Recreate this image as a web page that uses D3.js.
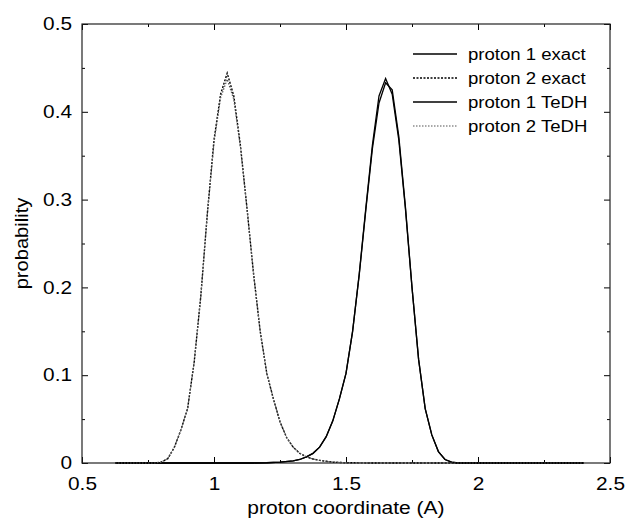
<!DOCTYPE html>
<html>
<head>
<meta charset="utf-8">
<script src="https://cdn.jsdelivr.net/npm/d3@7"></script>
<style>
  body { margin: 0; background: #fff; }
  text { font-family: "Liberation Sans", Arial, sans-serif; fill: #000; }
</style>
</head>
<body>
<div id="chart"></div>
<script>
/* proton probability densities, exact vs TeDH */

// [coordinate, probability]
const proton1Exact = [[0.625,0],[1.15,0],[1.2,0.0003],[1.25,0.001],[1.3,0.0025],[1.325,0.004],[1.35,0.007],
  [1.375,0.011],[1.4,0.018],[1.425,0.03],[1.45,0.048],[1.475,0.073],[1.5,0.102],[1.525,0.15],[1.55,0.215],
  [1.575,0.29],[1.6,0.362],[1.625,0.418],[1.65,0.438],[1.675,0.42],[1.7,0.368],[1.725,0.29],[1.75,0.2],
  [1.775,0.118],[1.8,0.062],[1.825,0.032],[1.85,0.013],[1.875,0.004],[1.9,0.001],[1.925,0],[2.4,0]];

const proton2Exact = [[0.625,0],[0.775,0],[0.8,0.001],[0.825,0.005],[0.85,0.018],[0.875,0.038],[0.9,0.062],
  [0.925,0.115],[0.95,0.19],[0.975,0.285],[1.0,0.368],[1.025,0.42],[1.05,0.444],[1.075,0.418],[1.1,0.362],
  [1.125,0.29],[1.15,0.215],[1.175,0.15],[1.2,0.102],[1.225,0.073],[1.25,0.047],[1.275,0.029],[1.3,0.018],
  [1.325,0.011],[1.35,0.007],[1.375,0.0045],[1.4,0.003],[1.425,0.002],[1.45,0.001],[1.5,0.0003],[1.6,0],[2.4,0]];

const proton1TeDH = [[0.625,0],[1.15,0],[1.2,0.0003],[1.25,0.001],[1.3,0.0025],[1.325,0.004],[1.35,0.007],
  [1.375,0.011],[1.4,0.018],[1.425,0.03],[1.45,0.048],[1.475,0.073],[1.5,0.102],[1.525,0.15],[1.55,0.214],
  [1.575,0.288],[1.6,0.358],[1.625,0.41],[1.65,0.433],[1.675,0.425],[1.7,0.372],[1.725,0.292],[1.75,0.2],
  [1.775,0.118],[1.8,0.062],[1.825,0.032],[1.85,0.013],[1.875,0.004],[1.9,0.001],[1.925,0],[2.4,0]];

const proton2TeDH = [[0.625,0],[0.775,0],[0.8,0.001],[0.825,0.005],[0.85,0.018],[0.875,0.038],[0.9,0.062],
  [0.925,0.115],[0.95,0.19],[0.975,0.284],[1.0,0.365],[1.025,0.416],[1.05,0.437],[1.075,0.414],[1.1,0.36],
  [1.125,0.29],[1.15,0.215],[1.175,0.15],[1.2,0.102],[1.225,0.073],[1.25,0.047],[1.275,0.029],[1.3,0.018],
  [1.325,0.011],[1.35,0.007],[1.375,0.0045],[1.4,0.003],[1.425,0.002],[1.45,0.001],[1.5,0.0003],[1.6,0],[2.4,0]];

const seriesNames = ["proton 1 exact", "proton 2 exact", "proton 1 TeDH", "proton 2 TeDH"];
const xTicks = [0.5, 1, 1.5, 2, 2.5];
const yTicks = [0, 0.1, 0.2, 0.3, 0.4, 0.5];
const xMinor = [0.75, 1.25, 1.75, 2.25];
const yMinor = [0.05, 0.15, 0.25, 0.35, 0.45];

const width = 627,
      height = 522,
      margin = ({ top: 24, right: 17, bottom: 59, left: 82 });

let svg = d3.select("#chart")
    .append("svg")
    .attr("width", width)
    .attr("height", height);

let x = d3.scaleLinear()
    .domain([0.5, 2.5])
    .range([margin.left, width - margin.right]);

let y = d3.scaleLinear()
    .domain([0, 0.5])
    .range([height - margin.bottom, margin.top]);

const fmt = d3.format("~g");

// the original lettering is a bit wider than Liberation Sans, so stretch it
function stretch(sel, k) {
    sel.each(function() {
        const len = this.getComputedTextLength();
        d3.select(this)
            .attr("textLength", len * k)
            .attr("lengthAdjust", "spacingAndGlyphs");
    });
}

// ticks point inward on all four sides
svg.append("g")
    .attr("class", "labels")
    .attr("transform", `translate(0,${height - margin.bottom})`)
    .call(d3.axisBottom(x).tickValues(xTicks).tickFormat(fmt).tickSize(-6).tickPadding(15));
svg.append("g")
    .attr("transform", `translate(0,${height - margin.bottom})`)
    .call(d3.axisBottom(x).tickValues(xMinor).tickFormat("").tickSize(-3));
svg.append("g")
    .attr("transform", `translate(0,${margin.top})`)
    .call(d3.axisTop(x).tickValues(xTicks).tickFormat("").tickSize(-6));
svg.append("g")
    .attr("transform", `translate(0,${margin.top})`)
    .call(d3.axisTop(x).tickValues(xMinor).tickFormat("").tickSize(-3));

svg.append("g")
    .attr("class", "labels")
    .attr("transform", `translate(${margin.left},0)`)
    .call(d3.axisLeft(y).tickValues(yTicks).tickFormat(fmt).tickSize(-6).tickPadding(10));
svg.append("g")
    .attr("transform", `translate(${margin.left},0)`)
    .call(d3.axisLeft(y).tickValues(yMinor).tickFormat("").tickSize(-3));
svg.append("g")
    .attr("transform", `translate(${width - margin.right},0)`)
    .call(d3.axisRight(y).tickValues(yTicks).tickFormat("").tickSize(-6));
svg.append("g")
    .attr("transform", `translate(${width - margin.right},0)`)
    .call(d3.axisRight(y).tickValues(yMinor).tickFormat("").tickSize(-3));

svg.selectAll(".domain").remove();
svg.selectAll(".tick line").attr("stroke", "#000");
svg.selectAll(".labels .tick text")
    .style("font-size", "17.5px")
    .call(stretch, 1.19);

// frame
svg.append("rect")
    .attr("x", margin.left)
    .attr("y", margin.top)
    .attr("width", width - margin.left - margin.right)
    .attr("height", height - margin.top - margin.bottom)
    .attr("fill", "none")
    .attr("stroke", "#222")
    .attr("stroke-width", 1.2);

const styles = [
    { color: "#000", dash: null, w: 1.3 },
    { color: "#000", dash: "2,1.5", w: 1.4 },
    { color: "#000", dash: null, w: 1.3 },
    { color: "#555", dash: "1.5,1.5", w: 1.2 }
];
const allSeries = [proton1Exact, proton2Exact, proton1TeDH, proton2TeDH];

const line = d3.line()
    .x(d => x(d[0]))
    .y(d => y(d[1]));

svg.selectAll(".curve")
    .data(allSeries)
    .join("path")
    .attr("class", "curve")
    .attr("d", line)
    .attr("fill", "none")
    .attr("stroke", (d, i) => styles[i].color)
    .attr("stroke-width", (d, i) => styles[i].w)
    .attr("stroke-dasharray", (d, i) => styles[i].dash);

// legend
let legend = svg.selectAll(".legend")
    .data(seriesNames)
    .join("g")
    .attr("class", "legend")
    .attr("transform", (d, i) => `translate(413,${54 + i * 24})`);

legend.append("line")
    .attr("x1", 0).attr("x2", 44)
    .attr("stroke", (d, i) => styles[i].color)
    .attr("stroke-width", (d, i) => styles[i].w)
    .attr("stroke-dasharray", (d, i) => styles[i].dash);

legend.append("text")
    .attr("x", 55)
    .attr("dy", "0.35em")
    .style("font-size", "16px")
    .text(d => d)
    .call(stretch, 1.16);

// axis titles
svg.append("text")
    .attr("x", (margin.left + width - margin.right) / 2)
    .attr("y", 514)
    .attr("text-anchor", "middle")
    .style("font-size", "17.5px")
    .text("proton coordinate (A)")
    .call(stretch, 1.2);

svg.append("text")
    .attr("transform", `translate(22,${(margin.top + height - margin.bottom) / 2}) rotate(-90)`)
    .attr("text-anchor", "middle")
    .attr("dy", "0.35em")
    .style("font-size", "17.5px")
    .text("probability")
    .call(stretch, 1.15);
</script>
</body>
</html>
